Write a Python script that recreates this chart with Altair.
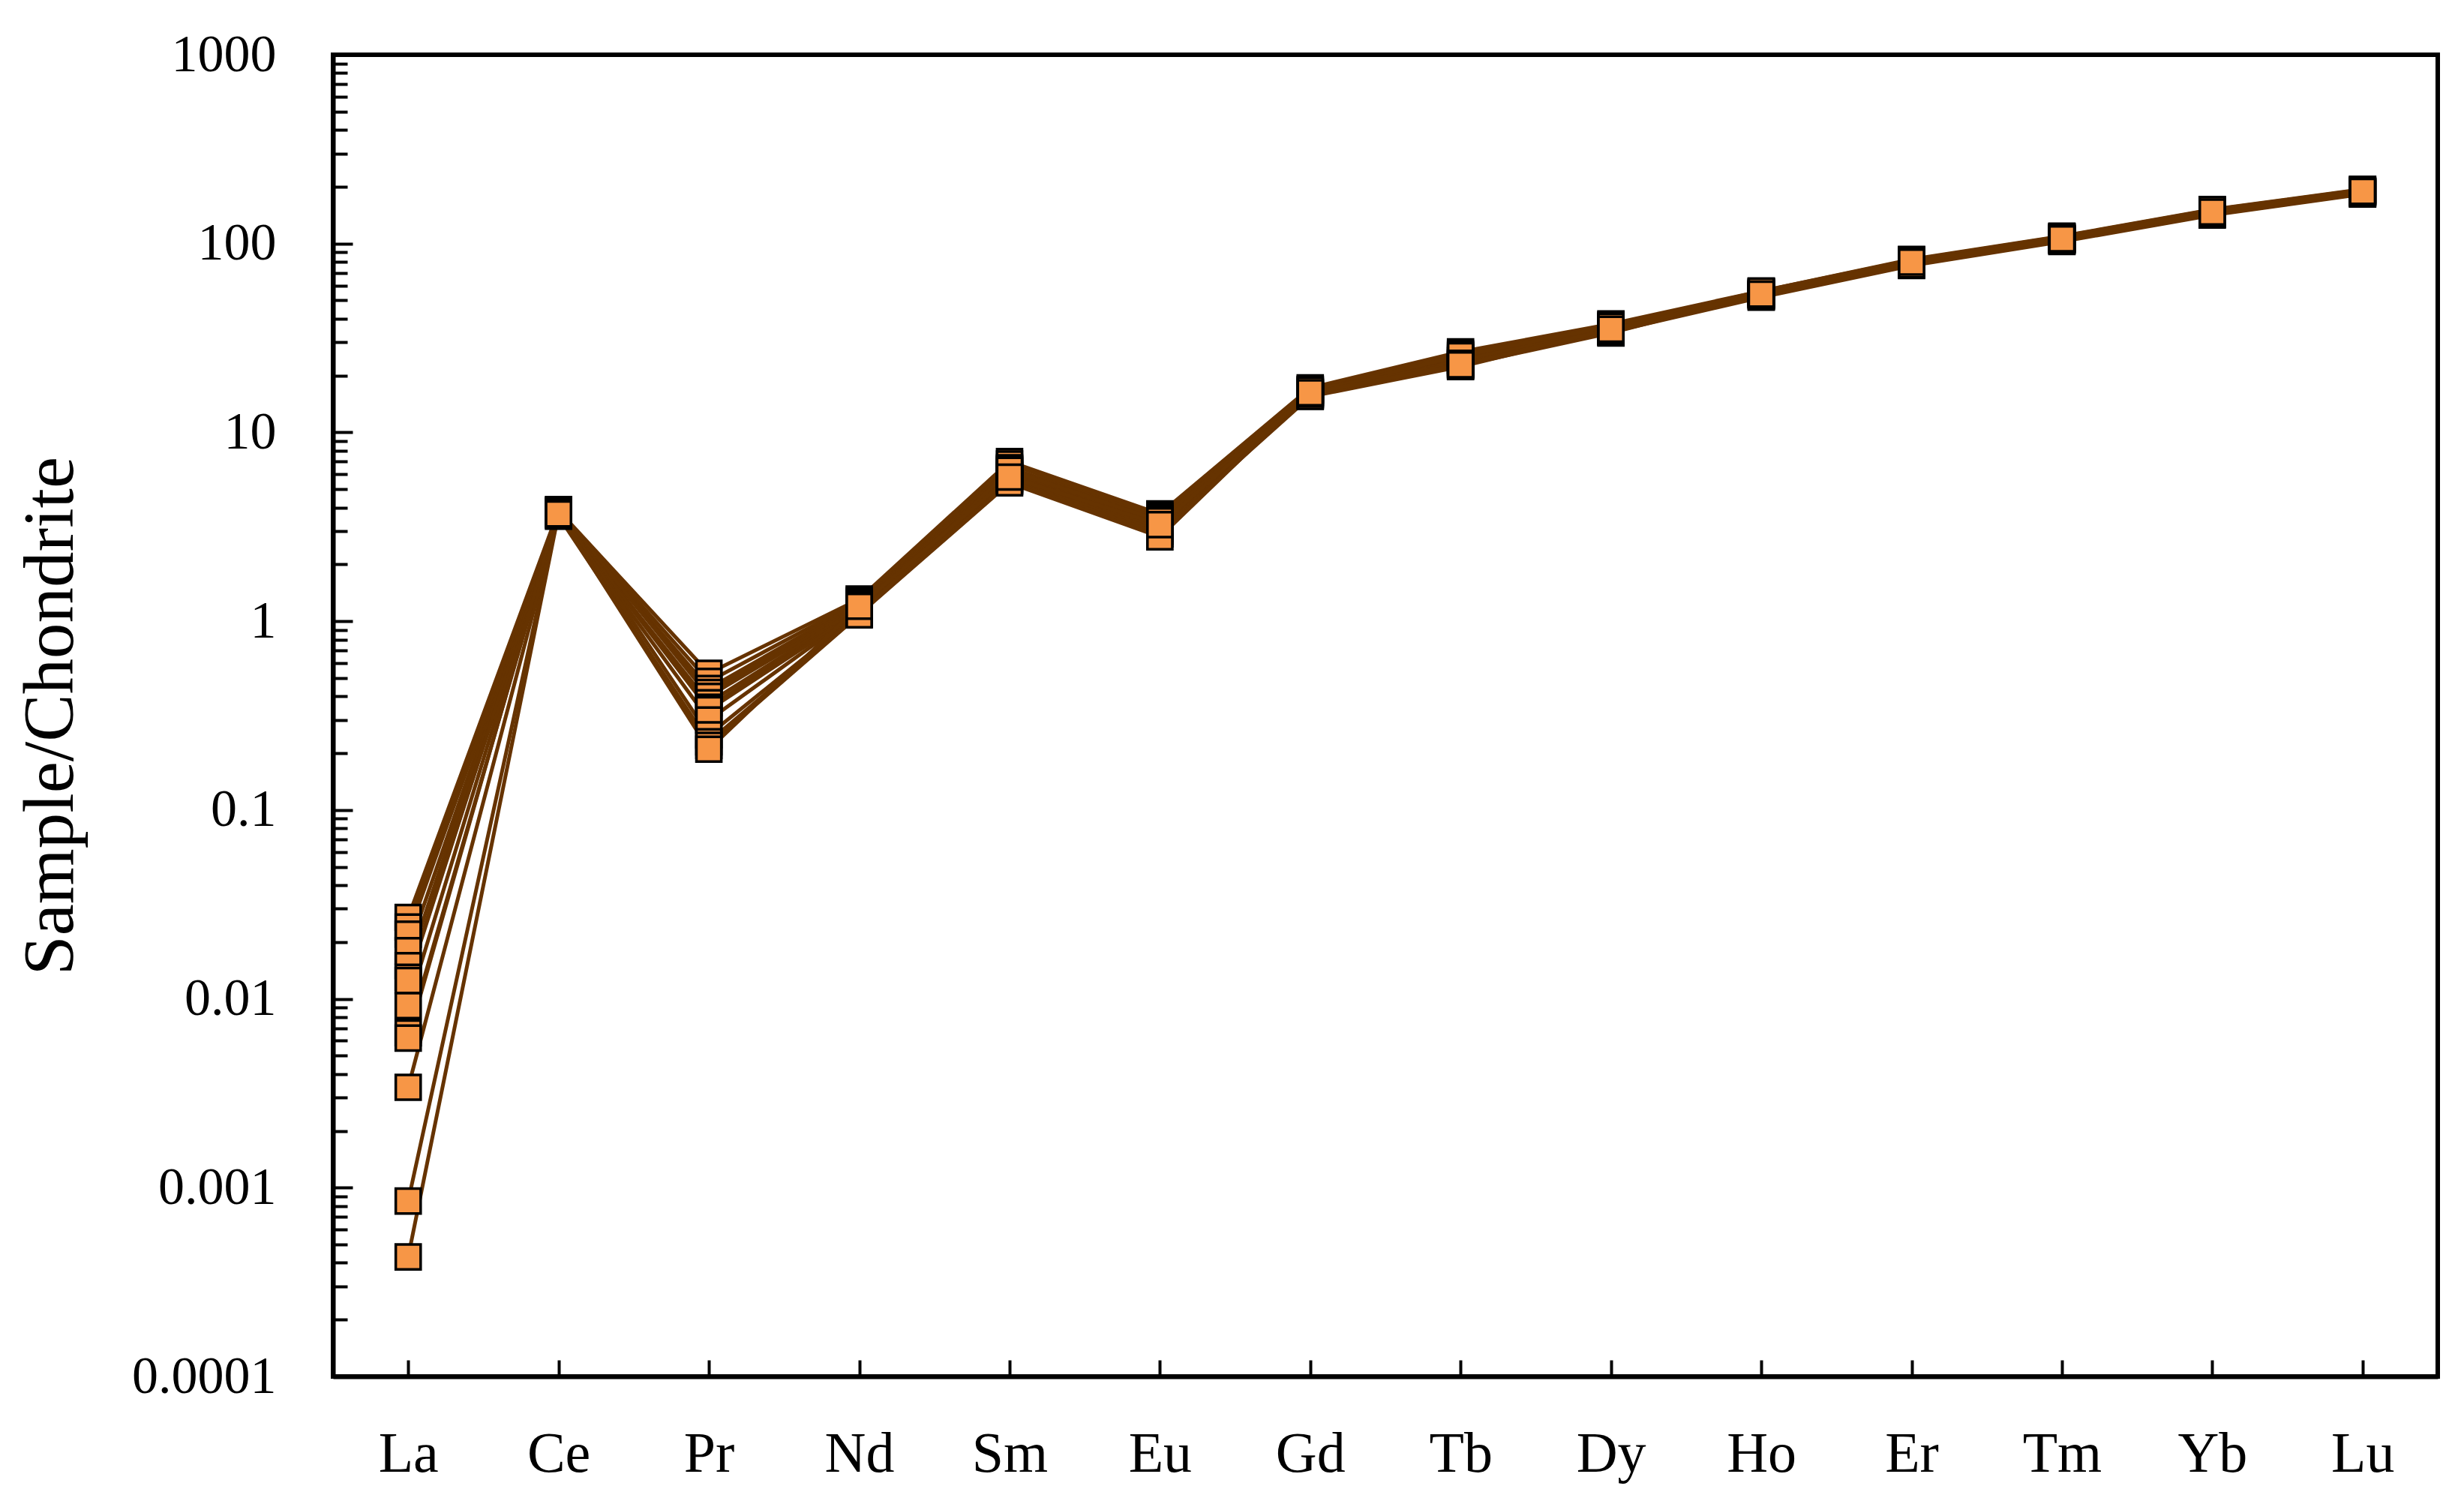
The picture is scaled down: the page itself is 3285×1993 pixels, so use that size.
import altair as alt
import pandas as pd

elements = ["La", "Ce", "Pr", "Nd", "Sm", "Eu", "Gd", "Tb", "Dy", "Ho", "Er", "Tm", "Yb", "Lu"]
samples = [f"S{i+1}" for i in range(13)]

La = [0.027, 0.024, 0.022, 0.018, 0.015, 0.013, 0.0125, 0.0092, 0.0066, 0.0062, 0.0034, 0.00085, 0.00043]
Ce = [3.85, 3.80, 3.75, 3.70, 3.90, 3.65, 3.80, 3.75, 3.70, 3.85, 3.60, 3.75, 3.70]
Pr = [0.53, 0.48, 0.44, 0.42, 0.40, 0.37, 0.35, 0.34, 0.30, 0.25, 0.23, 0.22, 0.21]
Nd = [1.31, 1.28, 1.25, 1.22, 1.20, 1.18, 1.15, 1.13, 1.12, 1.10, 1.09, 1.08, 1.20]
Sm = [7.0, 6.8, 6.5, 6.4, 6.2, 6.0, 5.9, 5.7, 5.6, 5.5, 5.4, 6.3, 5.8]
Eu = [3.7, 3.6, 3.5, 3.4, 3.35, 3.3, 3.2, 3.1, 3.0, 2.9, 2.8, 3.4, 3.25]
Gd = [17.2, 16.9, 16.6, 16.3, 16.1, 15.9, 15.7, 15.6, 15.5, 16.0, 16.4, 16.8, 16.2]
Tb = [26.7, 26.0, 25.0, 24.5, 24.0, 23.5, 23.0, 22.6, 22.3, 24.0, 25.5, 23.2, 22.8]
Dy = [37.5, 37.0, 36.2, 35.5, 35.0, 34.5, 34.0, 33.6, 34.8, 35.8, 36.5, 34.2, 35.2]
Ho = [56.0, 55.5, 54.8, 54.0, 53.5, 52.8, 52.0, 54.2, 55.2, 53.6, 56.0, 52.5, 54.0]
Er = [82, 81, 80, 79, 78.5, 77.5, 76.5, 79.2, 81, 78.5, 82.5, 77, 79.8]
Tm = [109, 108, 106.5, 105.5, 105, 104, 102.5, 106, 108, 104.8, 109.5, 103.5, 106]
Yb = [151, 149, 147, 146, 145, 143.5, 141.5, 146.5, 149, 145, 151.5, 142.5, 147]
Lu = [193, 191, 189, 188, 187, 185, 183, 188.5, 191, 187, 194, 184, 189]

major_ticks = [0.0001, 0.001, 0.01, 0.1, 1, 10, 100, 1000]
minor_ticks = [m * 10.0 ** k for k in range(-4, 3) for m in range(2, 10)]

series = dict(La=La, Ce=Ce, Pr=Pr, Nd=Nd, Sm=Sm, Eu=Eu, Gd=Gd, Tb=Tb, Dy=Dy,
              Ho=Ho, Er=Er, Tm=Tm, Yb=Yb, Lu=Lu)
rows = []
for el in elements:
    for s, v in zip(samples, series[el]):
        rows.append({"element": el, "sample": s, "value": v})
df = pd.DataFrame(rows)

W, H = 2806, 1762
FONT = "Liberation Serif"

xscale = alt.Scale(type="point", padding=0.5, domain=elements)
yscale = alt.Scale(type="log", domain=[0.0001, 1000], nice=False)

base = alt.Chart(df)

lines = base.mark_line(color="#663300", strokeWidth=5).encode(
    x=alt.X("element:N", sort=elements, scale=xscale,
            axis=alt.Axis(orient="bottom", title=None, ticks=False, domain=True,
                          domainWidth=6, domainColor="black", labelAngle=0,
                          labelFont=FONT, labelFontSize=76, labelPadding=66,
                          labelColor="black")),
    y=alt.Y("value:Q", scale=yscale,
            axis=alt.Axis(orient="left", values=major_ticks, ticks=False,
                          labelExpr="format(datum.value, '~f')",
                          labelLimit=600,
                          domain=True, domainWidth=6, domainColor="black",
                          labelFont=FONT, labelFontSize=70, labelPadding=76,
                          labelColor="black",
                          title="Sample/Chondrite", titleFont=FONT,
                          titleFontSize=95, titleFontWeight="normal",
                          titleColor="black", titleX=-377, titleY=H / 2,
                          titleAngle=270, titleAlign="center",
                          titleBaseline="middle")),
    detail="sample:N",
)

points = base.mark_square(size=1100, color="#F79646", stroke="black",
                          strokeWidth=3.5, opacity=1).encode(
    x=alt.X("element:N", sort=elements, scale=xscale,
            axis=alt.Axis(orient="top", offset=-H, title=None, labels=False,
                          domain=False, ticks=True, tickSize=22, tickWidth=4,
                          tickColor="black")),
    y=alt.Y("value:Q", scale=yscale,
            axis=alt.Axis(orient="right", offset=-W, title=None, labels=False,
                          domain=False, values=major_ticks, ticks=True,
                          tickSize=26, tickWidth=4, tickColor="black")),
    detail="sample:N",
)

minor = base.mark_point(opacity=0).encode(
    x=alt.X("element:N", sort=elements, scale=xscale, axis=None),
    y=alt.Y("value:Q", scale=yscale,
            axis=alt.Axis(orient="right", offset=-W, title=None, labels=False,
                          domain=False, values=minor_ticks, ticks=True,
                          tickSize=19, tickWidth=4, tickColor="black")),
)

chart = alt.layer(lines, points, minor).resolve_axis(
    x="independent", y="independent"
).properties(
    width=W, height=H,
    autosize=alt.AutoSizeParams(type="none"),
    padding={"left": 436, "top": 65, "right": 27, "bottom": 150},
).configure_view(
    stroke="black", strokeWidth=6
).configure_axis(grid=False)

chart.save("out.html", embed_options={"renderer": "svg", "actions": False})
